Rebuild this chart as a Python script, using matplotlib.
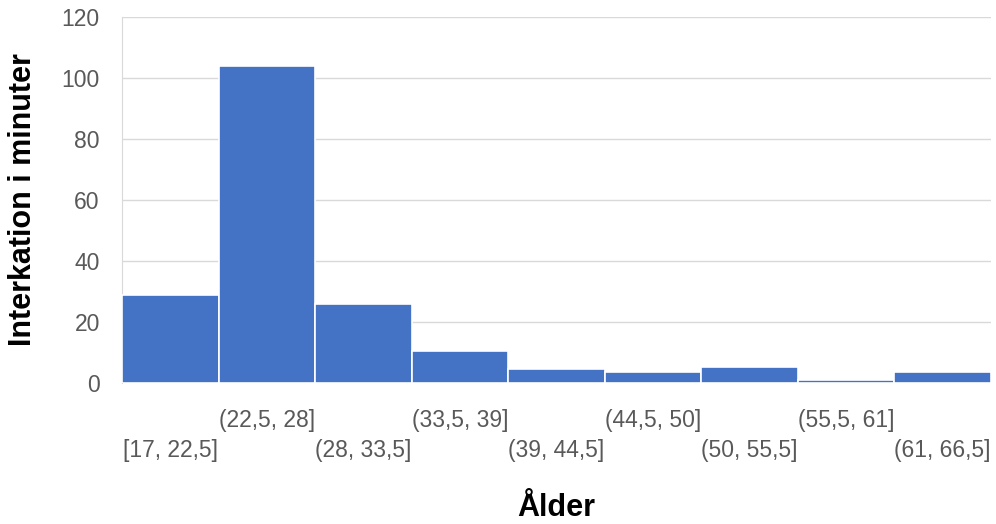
import matplotlib
matplotlib.use("Agg")
import matplotlib.pyplot as plt
import numpy as np

# interaction time per age bin
bins = ["[17, 22,5]", "(22,5, 28]", "(28, 33,5]", "(33,5, 39]", "(39, 44,5]",
        "(44,5, 50]", "(50, 55,5]", "(55,5, 61]", "(61, 66,5]"]
minutes = [29, 104, 26, 10.5, 4.7, 3.6, 5.3, 0.9, 3.6]
yticks = [0, 20, 40, 60, 80, 100, 120]

plt.rcParams["font.family"] = ["Liberation Sans Narrow", "Liberation Sans", "DejaVu Sans"]

fig = plt.figure(figsize=(9.96, 5.24), dpi=100)
ax = fig.add_axes([0.1225, 0.269, 0.8725, 0.6985])

x = np.arange(len(bins))
ax.bar(x, minutes, width=1.0, color="#4472C4", edgecolor="white", linewidth=1.2, zorder=3)

ax.set_xlim(-0.5, len(bins) - 0.5)
ax.set_ylim(0, 120)
ax.set_yticks(yticks)
ax.grid(axis="y", color="#d9d9d9", linewidth=1.0, zorder=0)
for s in ["top", "right", "bottom"]:
    ax.spines[s].set_visible(False)
ax.spines["left"].set_color("#d9d9d9")
ax.tick_params(axis="both", length=0, labelsize=16.5, colors="#595959")
ax.tick_params(axis="y", pad=16)

# staggered category labels: odd bins on the upper row, even bins below
ax.set_xticks(x)
ax.set_xticklabels(bins)
for i, t in enumerate(ax.xaxis.get_major_ticks()):
    t.set_pad(19 if i % 2 else 40.5)

ax.set_ylabel("Interkation i minuter", fontsize=22, fontweight="bold",
              family=["Liberation Sans", "DejaVu Sans"])
ax.set_xlabel("Ålder", fontsize=22, fontweight="bold",
              family=["Liberation Sans", "DejaVu Sans"])
ax.yaxis.set_label_coords(-0.097, 0.5)
ax.xaxis.set_label_coords(0.5, -0.30)

fig.savefig("out.png", dpi=100)
